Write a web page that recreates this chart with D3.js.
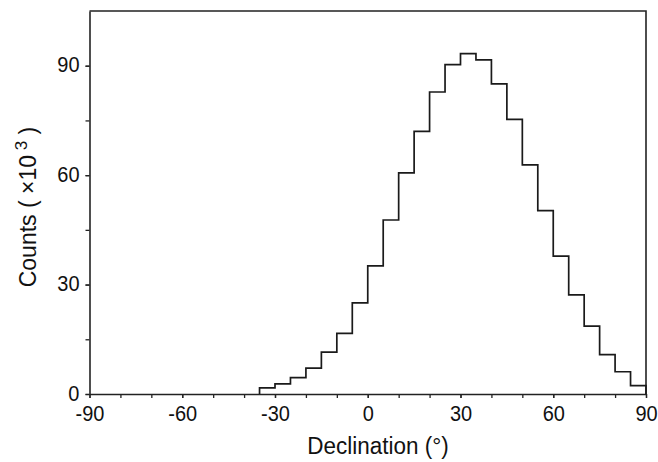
<!DOCTYPE html>
<html>
<head>
<meta charset="utf-8">
<script src="https://cdn.jsdelivr.net/npm/d3@7"></script>
<style>
  body { margin: 0; background: #fff; }
  svg text { font-family: "Liberation Sans", Arial, sans-serif; fill: #111; }
</style>
</head>
<body>
<div id="chart"></div>
<script>
// bin left edges (degrees) and counts (x10^3), bins are 5 deg wide
const binStart = [-35, -30, -25, -20, -15, -10, -5, 0, 5, 10, 15, 20, 25,
                  30, 35, 40, 45, 50, 55, 60, 65, 70, 75, 80, 85];
const counts = [1.7, 2.8, 4.5, 7.1, 11.5, 16.6, 25.0, 35.1, 47.7, 60.6, 72.0, 82.8, 90.3,
                93.3, 91.6, 85.0, 75.3, 62.8, 50.3, 37.8, 27.2, 18.6, 10.8, 6.1, 2.3];
const binWidth = 5;
const xTicks = [-90, -60, -30, 0, 30, 60, 90];
const xMinor = d3.range(-90, 91, 10);
const yTicks = [0, 30, 60, 90];
const yMinor = d3.range(0, 91, 15);

const cfg = { width: 658, height: 462, left: 89.5, right: 12, top: 11, bottom: 68 };
const w = cfg.width - cfg.left - cfg.right;
const h = cfg.height - cfg.top - cfg.bottom;
const stretch = 1.12; // labels in the source look a bit tall

const svg = d3.select("#chart").append("svg")
    .attr("width", cfg.width)
    .attr("height", cfg.height);
const g = svg.append("g").attr("transform", "translate(" + cfg.left + "," + cfg.top + ")");

const x = d3.scaleLinear().domain([-90, 90]).range([0, w]);
const y = d3.scaleLinear().domain([0, 105]).range([h, 0]);

const axisColor = "#222";

// minor ticks first, unlabeled
g.append("g")
    .attr("transform", "translate(0," + h + ")")
    .call(d3.axisBottom(x).tickValues(xMinor).tickSize(4).tickFormat(""))
    .call(a => a.select(".domain").remove());
g.append("g")
    .call(d3.axisLeft(y).tickValues(yMinor).tickSize(4).tickFormat(""))
    .call(a => a.select(".domain").remove());

// labeled axes (plain hyphen for negatives, like the source)
const xAxis = g.append("g")
    .attr("transform", "translate(0," + h + ")")
    .call(d3.axisBottom(x).tickValues(xTicks).tickSize(4).tickSizeOuter(0)
        .tickFormat(d => String(d)));
const yAxis = g.append("g")
    .call(d3.axisLeft(y).tickValues(yTicks).tickSize(4).tickSizeOuter(0)
        .tickFormat(d => String(d)));

g.selectAll(".tick line").attr("stroke", axisColor).attr("stroke-width", 1.3);
g.selectAll(".domain").attr("stroke", axisColor).attr("stroke-width", 1.6);
g.selectAll(".tick text").attr("font-size", 20).attr("fill", "#111")
    .attr("font-family", "Liberation Sans, Arial, sans-serif");

xAxis.selectAll(".tick text")
    .attr("y", null).attr("dy", null)
    .attr("transform", "translate(0,27) scale(1," + stretch + ")");
yAxis.selectAll(".tick text")
    .attr("x", null).attr("dy", "0.32em")
    .attr("transform", "translate(-10,-1) scale(1," + stretch + ")");

// top and right frame
g.append("path")
    .attr("d", "M0,0H" + w + "V" + h)
    .attr("fill", "none")
    .attr("stroke", axisColor)
    .attr("stroke-width", 1.6);

// histogram outline
const pts = [[binStart[0], 0]];
binStart.forEach((b, i) => {
    pts.push([b, counts[i]]);
    pts.push([b + binWidth, counts[i]]);
});
pts.push([binStart[binStart.length - 1] + binWidth, 0]);

g.append("path")
    .datum(pts)
    .attr("fill", "none")
    .attr("stroke", "#1a1a1a")
    .attr("stroke-width", 1.7)
    .attr("d", d3.line().x(d => x(d[0])).y(d => y(d[1])));

// axis titles
svg.append("text")
    .attr("transform", "translate(378,454) scale(1,1.05)")
    .attr("text-anchor", "middle")
    .attr("font-size", 22.5)
    .text("Declination (°)");

const yt = svg.append("text")
    .attr("transform", "translate(36,207) rotate(-90)")
    .attr("text-anchor", "middle")
    .attr("font-size", 23);
yt.append("tspan").text("Counts ( ×10");
yt.append("tspan").attr("dy", -9).attr("font-size", 17).text(" 3");
yt.append("tspan").attr("dy", 9).text(" )");
</script>
</body>
</html>
